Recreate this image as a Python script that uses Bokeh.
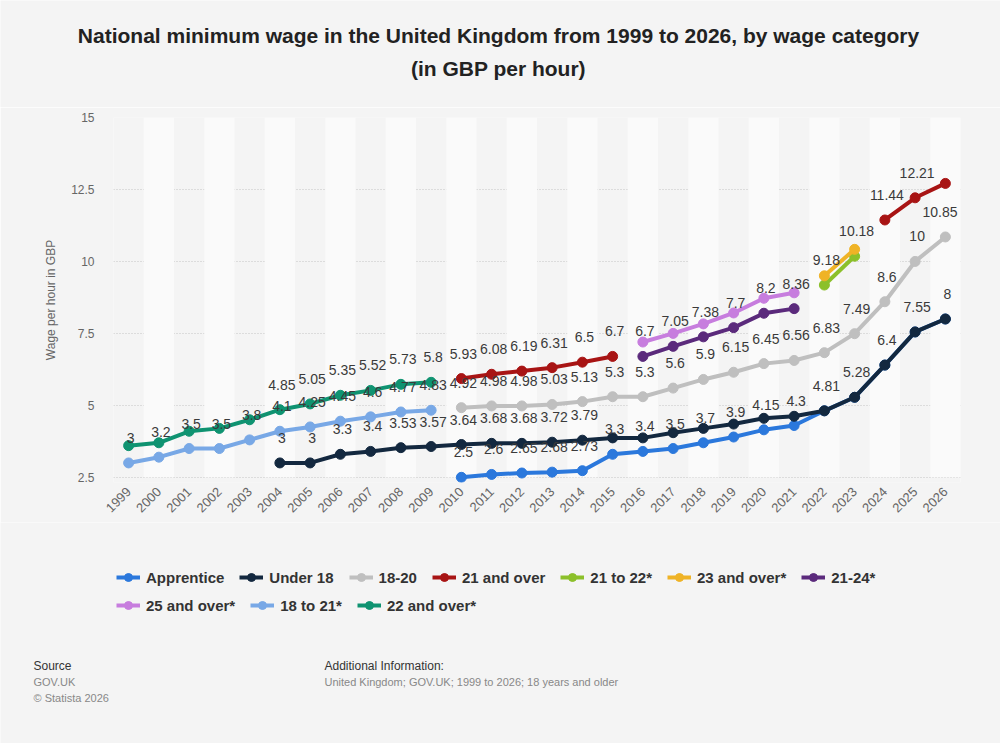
import math
from bokeh.plotting import figure
from bokeh.layouts import column
from bokeh.models import (Range1d, FixedTicker, Label, Legend, LegendItem,
                          ColumnDataSource, CustomJSTickFormatter)
from bokeh.core.properties import value
from bokeh.embed import file_html
from bokeh.resources import INLINE

# ---------------- data ----------------
years = list(range(1999, 2027))
y_ticks = [2.5, 5, 7.5, 10, 12.5, 15]

series_names = ["Apprentice", "Under 18", "18-20", "21 and over", "21 to 22*",
                "23 and over*", "21-24*", "25 and over*", "18 to 21*", "22 and over*"]

apprentice_years = list(range(2010, 2027))
apprentice = [2.5, 2.6, 2.65, 2.68, 2.73, 3.3, 3.4, 3.5, 3.7, 3.9, 4.15, 4.3,
              4.81, 5.28, 6.4, 7.55, 8.0]

under18_years = list(range(2004, 2027))
under18 = [3.0, 3.0, 3.3, 3.4, 3.53, 3.57, 3.64, 3.68, 3.68, 3.72, 3.79, 3.87,
           3.87, 4.05, 4.2, 4.35, 4.55, 4.62, 4.81, 5.28, 6.4, 7.55, 8.0]

age18_20_years = list(range(2010, 2027))
age18_20 = [4.92, 4.98, 4.98, 5.03, 5.13, 5.3, 5.3, 5.6, 5.9, 6.15, 6.45, 6.56,
            6.83, 7.49, 8.6, 10.0, 10.85]

age21_over_years = list(range(2010, 2027))
age21_over = [5.93, 6.08, 6.19, 6.31, 6.5, 6.7, None, None, None, None, None,
              None, None, None, 11.44, 12.21, 12.71]

age21_22_years = [2022, 2023]
age21_22 = [9.18, 10.18]

age23_over_years = [2022, 2023]
age23_over = [9.5, 10.42]

age21_24_years = list(range(2016, 2022))
age21_24 = [6.7, 7.05, 7.38, 7.7, 8.2, 8.36]

age25_over_years = list(range(2016, 2022))
age25_over = [7.2, 7.5, 7.83, 8.21, 8.72, 8.91]

age18_21_years = list(range(1999, 2010))
age18_21 = [3.0, 3.2, 3.5, 3.5, 3.8, 4.1, 4.25, 4.45, 4.6, 4.77, 4.83]

age22_over_years = list(range(1999, 2010))
age22_over = [3.6, 3.7, 4.1, 4.2, 4.5, 4.85, 5.05, 5.35, 5.52, 5.73, 5.8]

# data labels that the original hides (overlaps)
hidden_label_years = {
    "Apprentice": [2022, 2023, 2024, 2025, 2026],
    "Under 18": [2015, 2016, 2017, 2018, 2019, 2020, 2021],
    "21 and over": [2026],
    "23 and over*": [2022, 2023],
    "25 and over*": list(range(2016, 2022)),
    "22 and over*": [1999, 2000, 2001, 2002, 2003],
}

series_data = {
    "Apprentice": (apprentice_years, apprentice),
    "Under 18": (under18_years, under18),
    "18-20": (age18_20_years, age18_20),
    "21 and over": (age21_over_years, age21_over),
    "21 to 22*": (age21_22_years, age21_22),
    "23 and over*": (age23_over_years, age23_over),
    "21-24*": (age21_24_years, age21_24),
    "25 and over*": (age25_over_years, age25_over),
    "18 to 21*": (age18_21_years, age18_21),
    "22 and over*": (age22_over_years, age22_over),
}

colors = {
    "Apprentice": "#2b78dc",
    "Under 18": "#13283f",
    "18-20": "#bfbfbf",
    "21 and over": "#a81414",
    "21 to 22*": "#8cc02a",
    "23 and over*": "#efb326",
    "21-24*": "#5b2a7c",
    "25 and over*": "#c77dde",
    "18 to 21*": "#78a8e6",
    "22 and over*": "#0f9371",
}

# ---------------- layout constants ----------------
W, H = 1000, 743
TOP_H = 107          # title strip height
MAIN_TOP, MAIN_BOTTOM = 10, 40
FL, FR = 113, 960    # frame left/right on canvas
FRAME_H = 365        # frame height (canvas 117..482)
Y_START = 2.32
MAIN_H = MAIN_TOP + FRAME_H + MAIN_BOTTOM
BOT_Y0 = TOP_H + MAIN_H      # canvas y where the bottom strip starts
BOT_H = H - BOT_Y0
BG = "#f4f4f4"
FONT = "Liberation Sans"
X0, X1 = years[0] - 0.5, years[-1] + 0.5
PX_PER_YEAR = (FR - FL) / (X1 - X0)
LABEL_DX = 2


def strip(height, y0):
    f = figure(width=W, height=height, output_backend="svg", toolbar_location=None,
               x_range=Range1d(0, W), y_range=Range1d(y0 + height, y0),
               x_axis_type=None, y_axis_type=None, min_border=0,
               frame_align=False)
    f.background_fill_color = BG
    f.border_fill_color = BG
    f.outline_line_color = None
    f.xgrid.visible = False
    f.ygrid.visible = False
    return f


def add_text(fig, text, cx, cy, size, color, style="normal", align="left"):
    fig.add_layout(Label(x=cx, y=cy, text=text, text_font=FONT, text_font_size=size,
                         text_font_style=style, text_color=color,
                         text_align=align, text_baseline="middle"))


# ---------------- title strip ----------------
top = strip(TOP_H, 0)
add_text(top, "National minimum wage in the United Kingdom from 1999 to 2026, by wage category",
         498, 35, "21px", "#222222", "bold", "center")
add_text(top, "(in GBP per hour)", 498, 68, "21px", "#222222", "bold", "center")

# ---------------- main chart ----------------
p = figure(width=W, height=MAIN_H, output_backend="svg", toolbar_location=None,
           x_range=Range1d(X0, X1),
           y_range=Range1d(Y_START, y_ticks[-1]),
           min_border_left=FL, min_border_right=W - FR,
           min_border_top=MAIN_TOP, min_border_bottom=MAIN_BOTTOM,
           frame_align=False)
p.background_fill_color = BG
p.border_fill_color = BG
p.outline_line_color = None

band_years = years[1::2]
p.vbar(x=band_years, width=1, bottom=y_ticks[0], top=y_ticks[-1],
       fill_color="#fafafa", line_color=None)

p.xgrid.grid_line_color = None
p.ygrid.ticker = FixedTicker(ticks=y_ticks)
p.ygrid.grid_line_color = "#c4c4c4"
p.ygrid.grid_line_dash = "1 2"
p.ygrid.grid_line_width = 1

p.xaxis.ticker = FixedTicker(ticks=years)
p.xaxis.major_label_orientation = math.pi / 4
p.xaxis.major_label_text_font = FONT
p.xaxis.major_label_text_font_size = "13px"
p.xaxis.major_label_text_color = "#666666"
p.xaxis.axis_line_color = None
p.xaxis.major_tick_line_color = None
p.xaxis.minor_tick_line_color = None
p.xaxis.major_label_standoff = 1

p.yaxis.ticker = FixedTicker(ticks=y_ticks)
p.yaxis.formatter = CustomJSTickFormatter(code="return tick.toString();")
p.yaxis.major_label_text_font = FONT
p.yaxis.major_label_text_font_size = "12px"
p.yaxis.major_label_text_color = "#666666"
p.yaxis.axis_line_color = None
p.yaxis.major_tick_line_color = None
p.yaxis.minor_tick_line_color = None
p.yaxis.major_label_standoff = 13
p.yaxis.axis_label = "Wage per hour in GBP"
p.yaxis.axis_label_text_font = FONT
p.yaxis.axis_label_text_font_size = "12px"
p.yaxis.axis_label_text_font_style = "normal"
p.yaxis.axis_label_text_color = "#666666"
p.yaxis.axis_label_standoff = 10


def label_shift(x, text):
    """Keep a data label inside the plot area (like the original's justify)."""
    w = sum(7.8 if ch.isdigit() else 3.9 for ch in text)
    centre = FL + (x - X0) * PX_PER_YEAR + LABEL_DX
    over = centre + w / 2 - (FR - 3)
    return LABEL_DX - over if over > 0 else LABEL_DX


sources = {}
lab_x, lab_y, lab_t, lab_dx = [], [], [], []
for name in series_names:
    xs, ys = series_data[name]
    yv = [float("nan") if v is None else v for v in ys]
    src = ColumnDataSource(dict(x=xs, y=yv))
    sources[name] = src
    c = colors[name]
    p.line("x", "y", source=src, line_width=4, line_color=c)
    p.scatter("x", "y", source=src, size=10, fill_color=c, line_color=c)
    hid = hidden_label_years.get(name, [])
    for x, v in zip(xs, ys):
        if v is None or x in hid:
            continue
        t = f"{v:g}"
        lab_x.append(x)
        lab_y.append(v)
        lab_t.append(t)
        lab_dx.append(label_shift(x, t))

lab_src = ColumnDataSource(dict(x=lab_x, y=lab_y, text=lab_t, dx=lab_dx))
p.text(x="x", y="y", text="text", source=lab_src, text_font=value(FONT),
       text_font_size="14px", text_color="#3a3a3a", text_align="center",
       text_baseline="middle", x_offset="dx", y_offset=-25)

# ---------------- legend + footer strip ----------------
bot = strip(BOT_H, BOT_Y0)
legend_renderers = {}
for name in series_names:
    c = colors[name]
    # same series data; it falls outside this strip's ranges, only the legend swatch shows
    lr = bot.line("x", "y", source=sources[name], line_width=4, line_color=c)
    sr = bot.scatter("x", "y", source=sources[name], size=10, fill_color=c, line_color=c)
    legend_renderers[name] = [lr, sr]


def make_legend(names, bottom_canvas_y):
    items = [LegendItem(label=n, renderers=legend_renderers[n]) for n in names]
    return Legend(items=items, orientation="horizontal",
                  location=(116, H - bottom_canvas_y),
                  glyph_width=24, glyph_height=20, label_height=20,
                  label_standoff=6, spacing=15, padding=0, margin=0,
                  label_text_font=FONT, label_text_font_style="bold",
                  label_text_font_size="15px", label_text_color="#333333",
                  background_fill_alpha=0, border_line_alpha=0)


bot.add_layout(make_legend(series_names[:7], 587))
bot.add_layout(make_legend(series_names[7:], 615))

add_text(bot, "Source", 33, 665, "12px", "#333333")
add_text(bot, "GOV.UK", 33, 681, "11px", "#888888")
add_text(bot, "\u00a9 Statista 2026", 33, 697, "11px", "#888888")
add_text(bot, "Additional Information:", 324, 665, "12px", "#333333")
add_text(bot, "United Kingdom; GOV.UK; 1999 to 2026; 18 years and older", 324, 681, "11px", "#888888")

layout = column(top, p, bot, spacing=0)
open("out.html", "w").write(file_html(layout, INLINE))
